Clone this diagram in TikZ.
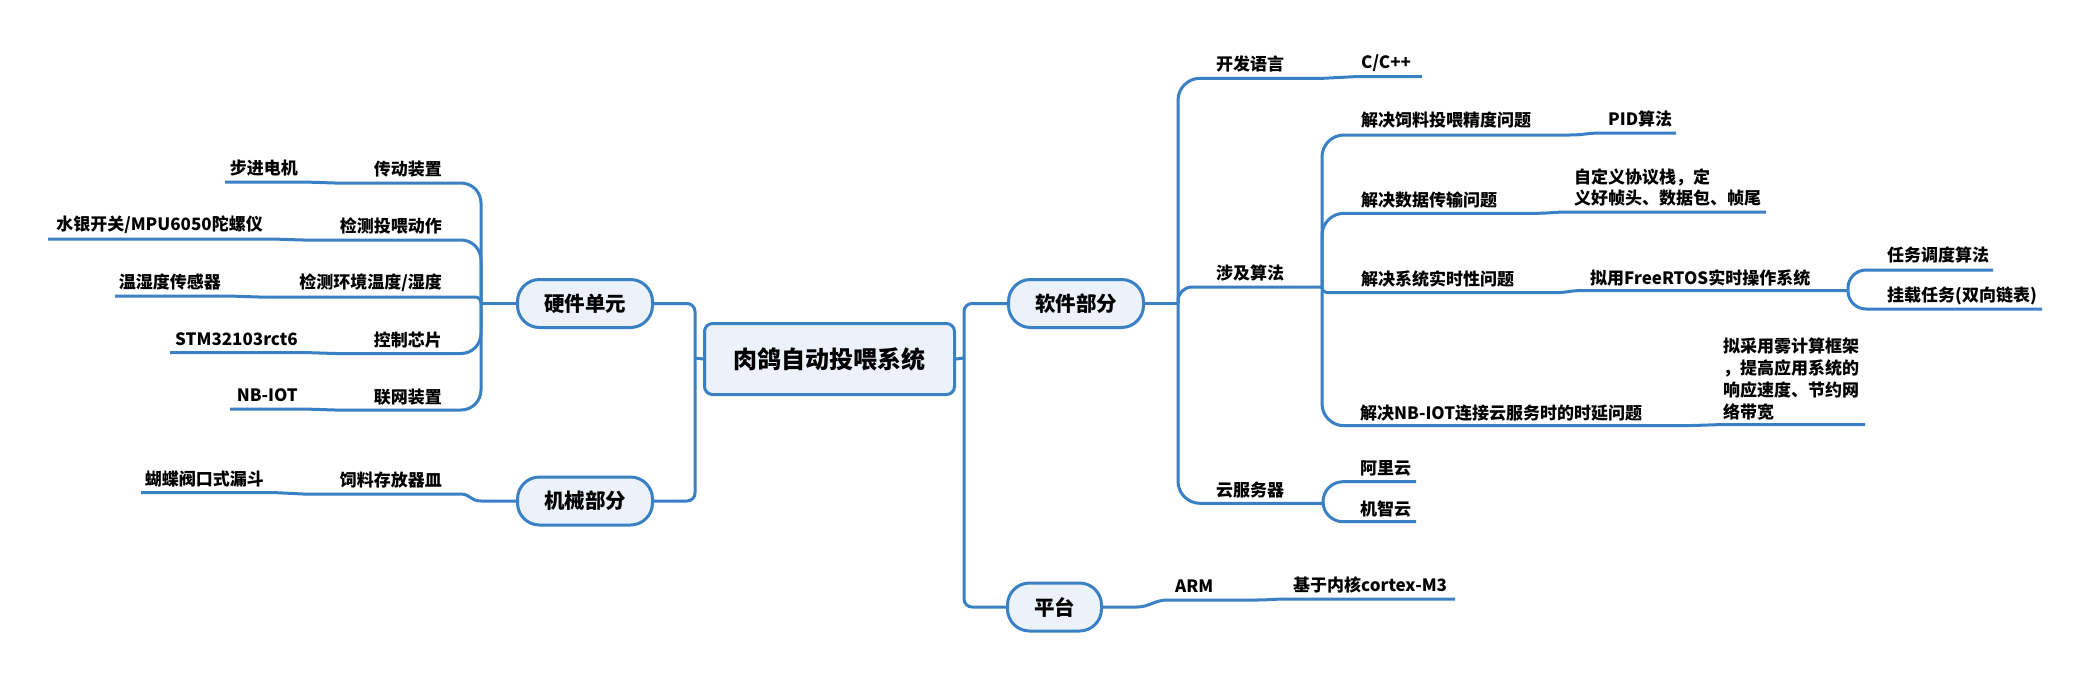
\documentclass[tikz,border=0pt]{standalone}
\usepackage{fontspec}
\setmainfont{Noto Sans CJK SC}
\definecolor{lblue}{RGB}{58,128,196}
\definecolor{lfill}{RGB}{235,242,250}
\begin{document}
\begin{tikzpicture}[x=1pt,y=-1pt,
  ln/.style={draw=lblue,line width=3pt},
  lbl/.style={font=\fontsize{17}{21.7}\selectfont\bfseries,inner sep=0pt,text=black},
  topic/.style={draw=lblue,line width=3pt,fill=lfill,rounded corners=22pt,
    minimum width=135pt,minimum height=48pt,inner sep=0pt,
    font=\fontsize{20.5}{24}\selectfont\bfseries},
  rootbox/.style={draw=lblue,line width=3pt,fill=lfill,rounded corners=8pt,
    minimum width=250pt,minimum height=71pt,inner sep=0pt,
    font=\fontsize{24}{28}\selectfont\bfseries}]
\fill[white] (0,0) rectangle (2089,681);
\useasboundingbox (0,0) rectangle (2089,681);

% ---------- topics ----------
\node[rootbox] (root) at (829.5,359) {肉鸽自动投喂系统};
\node[topic] (hw) at (585,303.5) {硬件单元};
\node[topic] (mech) at (585,501) {机械部分};
\node[topic] (sw) at (1076,303.5) {软件部分};
\node[topic,minimum width=94pt] (plat) at (1054.5,607) {平台};

% ---------- main connectors ----------
\coordinate (lj) at (695,358);
\coordinate (rj) at (964,358);
\draw[ln] (root.west) -- (lj);
\draw[ln,rounded corners=8pt] (hw.east) -| (lj) |- (mech.east);
\draw[ln] (root.east) -- (rj);
\draw[ln,rounded corners=8pt] (sw.west) -| (rj) |- (plat.west);

% ---------- hardware ----------
\coordinate (hwj) at (481,303.5);
\draw[ln] (hw.west) -- (hwj);
\coordinate (h1a) at (335,183);   \coordinate (h1b) at (304,182);   \coordinate (h1c) at (225,182);
\coordinate (h2a) at (303,240);   \coordinate (h2b) at (272,239);   \coordinate (h2c) at (48,239);
\coordinate (h3a) at (259,297);   \coordinate (h3b) at (228,296);   \coordinate (h3c) at (115,296);
\coordinate (h4a) at (335,353.5); \coordinate (h4b) at (304,352.5); \coordinate (h4c) at (170,352.5);
\coordinate (h5a) at (335,410);   \coordinate (h5b) at (304,409);   \coordinate (h5c) at (230,409);
\draw[ln,rounded corners=20pt] (hwj) |- (h1a);
\draw[ln,rounded corners=20pt] (hwj) |- (h2a);
\draw[ln,rounded corners=6pt] (hwj) |- (h3a);
\draw[ln,rounded corners=20pt] (hwj) |- (h4a);
\draw[ln,rounded corners=20pt] (hwj) |- (h5a);
\draw[ln] (h1a) .. controls +(-15,0) and +(15,0) .. (h1b) -- (h1c);
\draw[ln] (h2a) .. controls +(-15,0) and +(15,0) .. (h2b) -- (h2c);
\draw[ln] (h3a) .. controls +(-15,0) and +(15,0) .. (h3b) -- (h3c);
\draw[ln] (h4a) .. controls +(-15,0) and +(15,0) .. (h4b) -- (h4c);
\draw[ln] (h5a) .. controls +(-15,0) and +(15,0) .. (h5b) -- (h5c);

\node[lbl,anchor=east] (t11) at (442,169) {传动装置};
\node[lbl,anchor=east] (t12) at (298,168) {步进电机};
\node[lbl,anchor=east] (t21) at (442,226) {检测投喂动作};
\node[lbl,anchor=east] (t22) at (263,225) {水银开关/MPU6050陀螺仪};
\node[lbl,anchor=east] (t31) at (442,283) {检测环境温度/湿度};
\node[lbl,anchor=east] (t32) at (221,282) {温湿度传感器};
\node[lbl,anchor=east] (t41) at (442,340) {控制芯片};
\node[lbl,anchor=east] (t42) at (298,339) {STM32103rct6};
\node[lbl,anchor=east] (t51) at (442,397) {联网装置};
\node[lbl,anchor=east] (t52) at (298,395) {NB-IOT};

% ---------- mechanical ----------
\coordinate (mj) at (481,501);
\coordinate (mk) at (460,494);
\coordinate (m1a) at (303,494);
\coordinate (m1b) at (277,492.7);
\coordinate (m1c) at (141,492.7);
\draw[ln] (mech.west) -- (mj) .. controls +(-11,0) and +(11,0) .. (mk) -- (m1a)
  .. controls +(-13,0) and +(13,0) .. (m1b) -- (m1c);
\node[lbl,anchor=east] (tm1) at (442,480) {饲料存放器皿};
\node[lbl,anchor=east] (tm2) at (264,479) {蝴蝶阀口式漏斗};

% ---------- software ----------
\coordinate (swj) at (1178,303.5);
\draw[ln] (sw.east) -- (swj);
% 开发语言
\coordinate (k1a) at (1323,78.3); \coordinate (k1b) at (1354,76.7); \coordinate (k1c) at (1422,76.7);
\draw[ln,rounded corners=22pt] (swj) |- (k1a);
\draw[ln] (k1a) .. controls +(15,0) and +(-15,0) .. (k1b) -- (k1c);
\node[lbl,anchor=west] (tk1) at (1216,64) {开发语言};
\node[lbl,anchor=west] (tk2) at (1361,63) {C/C++};
% 涉及算法
\coordinate (sj) at (1322,287);
\draw[ln,rounded corners=14pt] (swj) |- (sj);
\node[lbl,anchor=west] (tsj) at (1216,273) {涉及算法};
\coordinate (a1a) at (1569,135);   \coordinate (a1b) at (1602,133);   \coordinate (a1c) at (1676,133);
\coordinate (a2a) at (1535,213.3); \coordinate (a2b) at (1569,212);   \coordinate (a2c) at (1766,212);
\coordinate (a3a) at (1553,292.7); \coordinate (a3b) at (1584,290.5); \coordinate (rtj) at (1848,290.5);
\coordinate (a4a) at (1687,425.7); \coordinate (a4b) at (1717,424.7); \coordinate (a4c) at (1865,424.7);
\draw[ln,rounded corners=22pt] (sj) |- (a1a);
\draw[ln,rounded corners=22pt] (sj) |- (a2a);
\draw[ln,rounded corners=5pt] (sj) |- (a3a);
\draw[ln,rounded corners=22pt] (sj) |- (a4a);
\draw[ln] (a1a) .. controls +(16,0) and +(-16,0) .. (a1b) -- (a1c);
\draw[ln] (a2a) .. controls +(16,0) and +(-16,0) .. (a2b) -- (a2c);
\draw[ln] (a3a) .. controls +(15,0) and +(-15,0) .. (a3b) -- (rtj);
\draw[ln] (a4a) .. controls +(15,0) and +(-15,0) .. (a4b) -- (a4c);
\coordinate (r1) at (1993,270); \coordinate (r2) at (2042,309);
\draw[ln,rounded corners=18pt] (rtj) |- (r1);
\draw[ln,rounded corners=18pt] (rtj) |- (r2);
\node[lbl,anchor=west] (ta1) at (1361,120) {解决饲料投喂精度问题};
\node[lbl,anchor=west] (tpid) at (1608,119) {PID算法};
\node[lbl,anchor=west] (ta2) at (1361,200) {解决数据传输问题};
\node[lbl,anchor=west,align=left] (tzd) at (1574,187.5) {自定义协议栈，定\\义好帧头、数据包、帧尾};
\node[lbl,anchor=west] (ta3) at (1361,279) {解决系统实时性问题};
\node[lbl,anchor=west] (trt) at (1590,278) {拟用FreeRTOS实时操作系统};
\node[lbl,anchor=west] (trw) at (1887,255) {任务调度算法};
\node[lbl,anchor=west] (tgz) at (1887,295.5) {挂载任务(双向链表)};
\node[lbl,anchor=west] (ta4) at (1360,413) {解决NB-IOT连接云服务时的时延问题};
\node[lbl,anchor=west,align=left] (twu) at (1723,379) {拟采用雾计算框架\\，提高应用系统的\\响应速度、节约网\\络带宽};
% 云服务器
\coordinate (cj) at (1323,503.3);
\draw[ln,rounded corners=22pt] (swj) |- (cj);
\coordinate (c1) at (1416,481.7); \coordinate (c2) at (1416,521.7);
\draw[ln,rounded corners=20pt] (cj) |- (c1);
\draw[ln,rounded corners=20pt] (cj) |- (c2);
\node[lbl,anchor=west] (tyun) at (1216,490) {云服务器};
\node[lbl,anchor=west] (tal) at (1360,468) {阿里云};
\node[lbl,anchor=west] (tjz) at (1360,509) {机智云};

% ---------- platform ----------
\coordinate (pj) at (1137,607); \coordinate (pk) at (1167,600);
\coordinate (pa) at (1255,600); \coordinate (pb) at (1288,599); \coordinate (pc) at (1455,599);
\draw[ln] (plat.east) -- (pj) .. controls +(12,0) and +(-12,0) .. (pk) -- (pa)
  .. controls +(15,0) and +(-15,0) .. (pb) -- (pc);
\node[lbl,anchor=west] (tarm) at (1175,586) {ARM};
\node[lbl,anchor=west] (tcx) at (1293,585) {基于内核cortex-M3};
\end{tikzpicture}
\end{document}
